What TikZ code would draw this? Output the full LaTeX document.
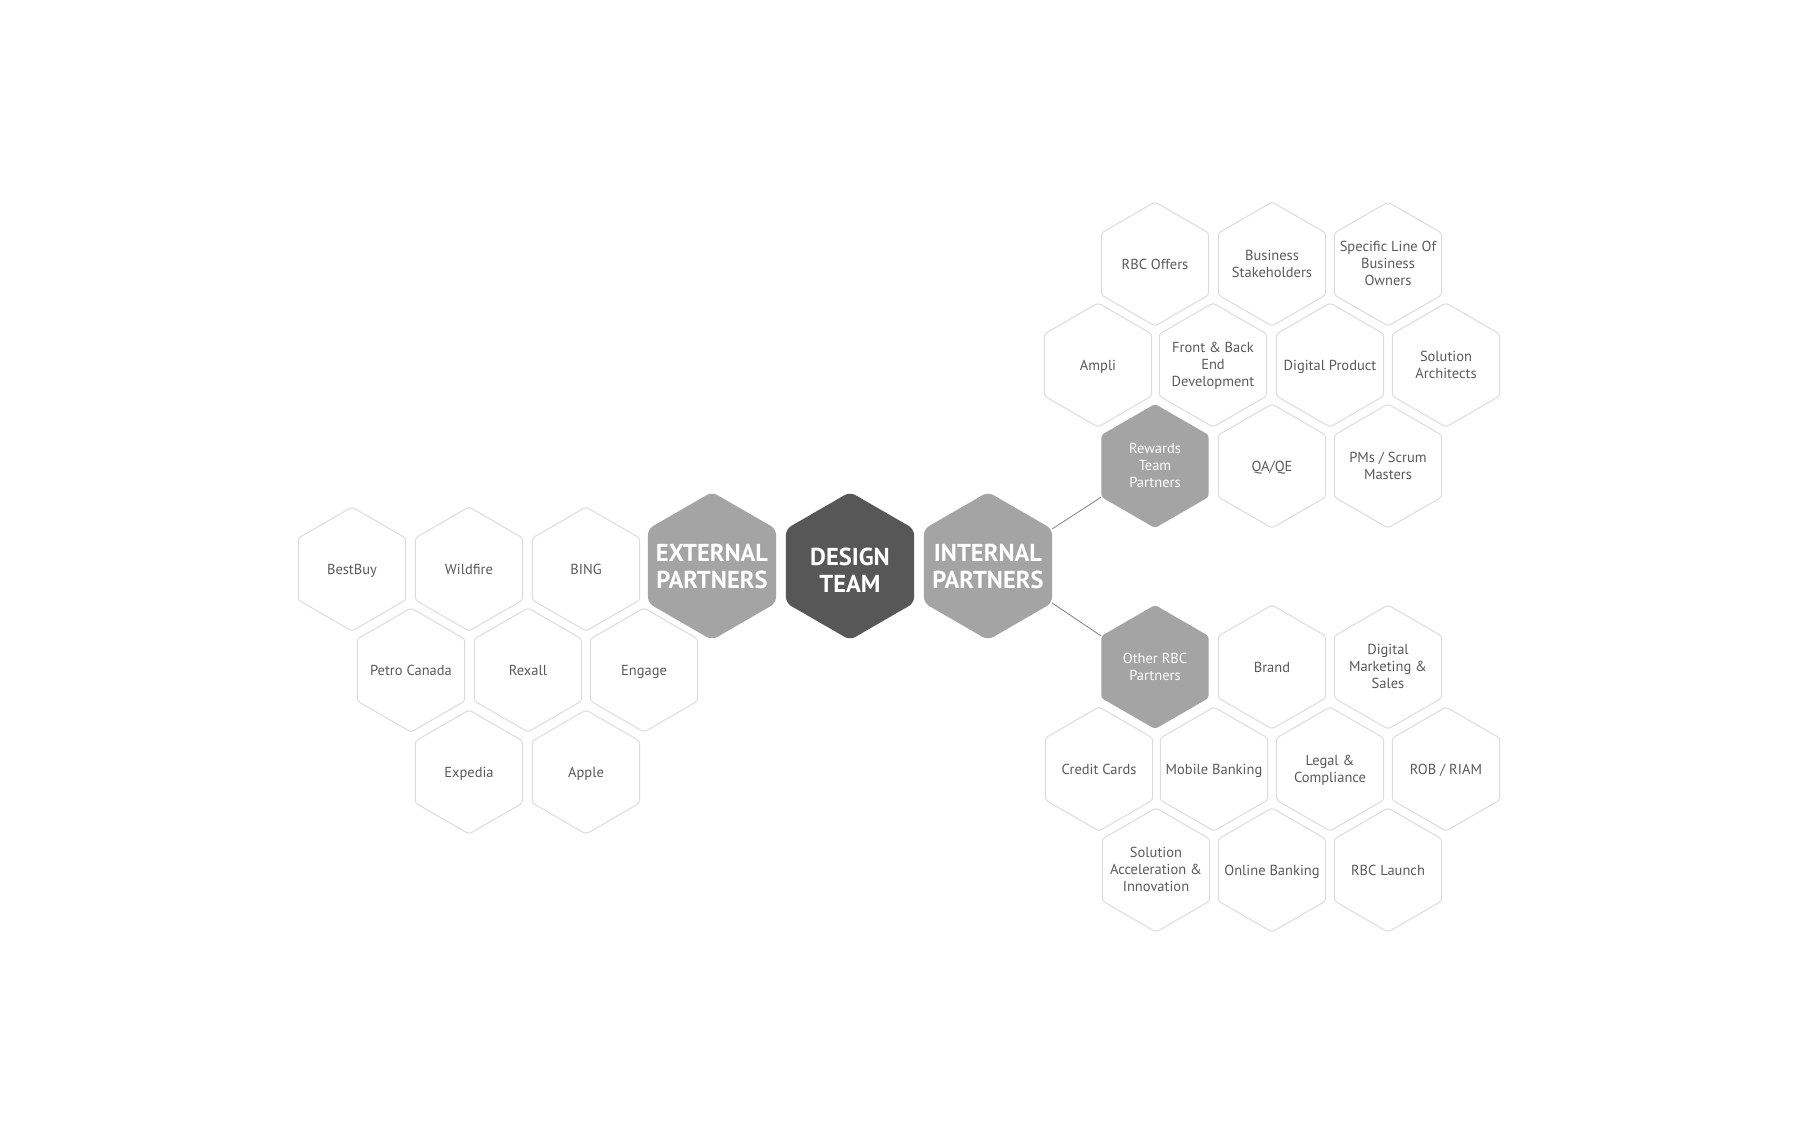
\documentclass[tikz,border=0pt]{standalone}
\usepackage{fontspec}
\usepackage{xcolor}
\usepackage{tikz}
\usetikzlibrary{shapes.geometric}
\setmainfont{PT Sans}

\definecolor{hexline}{HTML}{DCDCDC}
\definecolor{hexgray}{HTML}{5A5A5A}
\definecolor{partnergray}{HTML}{A4A4A4}
\definecolor{designgray}{HTML}{575757}

\tikzset{
    hex/.style={regular polygon, regular polygon sides=6, shape border rotate=30,
        inner sep=0pt, rounded corners=3pt},
    smallhex/.style={hex, draw=hexline, line width=1pt, minimum size=124pt},
    grouphex/.style={hex, fill=partnergray, minimum size=124pt},
    bighex/.style={hex, minimum size=148pt, rounded corners=6pt},
    hextext/.style={align=center, text=hexgray, font=\fontsize{14.5}{17}\selectfont, yshift=-2pt,
        execute at begin node=\strut, execute at end node=\strut},
    grouptext/.style={hextext, text=white},
    bigtext/.style={align=center, text=white, font=\fontsize{24.5}{27}\selectfont\bfseries, yshift=-4pt,
        execute at begin node=\strut, execute at end node=\strut},
}

\begin{document}
\begin{tikzpicture}[x=1pt, y=-1pt]
        \useasboundingbox[fill=white] (0,0) rectangle (1800,1133);

        % centre row
        \node[bighex, fill=partnergray, label={[bigtext]center:{EXTERNAL\\PARTNERS}}] (external) at (712,566) {};
        \node[bighex, fill=designgray, label={[bigtext, yshift=-4pt]center:{DESIGN\\TEAM}}] (design) at (850,566) {};
        \node[bighex, fill=partnergray, label={[bigtext]center:{INTERNAL\\PARTNERS}}] (internal) at (988,566) {};

        % external partners
        \node[smallhex, label={[hextext]center:BestBuy}] (bestbuy) at (352,569) {};
        \node[smallhex, label={[hextext]center:Wildfire}] (wildfire) at (469,569) {};
        \node[smallhex, label={[hextext]center:BING}] (bing) at (586,569) {};
        \node[smallhex, label={[hextext]center:Petro Canada}] (petro) at (411,670) {};
        \node[smallhex, label={[hextext]center:Rexall}] (rexall) at (528,670) {};
        \node[smallhex, label={[hextext]center:Engage}] (engage) at (644,670) {};
        \node[smallhex, label={[hextext]center:Expedia}] (expedia) at (469,772) {};
        \node[smallhex, label={[hextext]center:Apple}] (apple) at (586,772) {};

        % rewards team partners
        \node[smallhex, label={[hextext]center:RBC Offers}] (offers) at (1155,264) {};
        \node[smallhex, label={[hextext]center:{Business\\Stakeholders}}] (stakeholders) at (1272,264) {};
        \node[smallhex, label={[hextext]center:{Specific Line Of\\Business\\Owners}}] (owners) at (1388,264) {};
        \node[smallhex, label={[hextext]center:Ampli}] (ampli) at (1098,365) {};
        \node[smallhex, label={[hextext]center:{Front \& Back\\End\\Development}}] (frontback) at (1213,365) {};
        \node[smallhex, label={[hextext]center:Digital Product}] (product) at (1330,365) {};
        \node[smallhex, label={[hextext]center:{Solution\\Architects}}] (architects) at (1446,365) {};
        \node[grouphex, label={[grouptext]center:{Rewards\\Team\\Partners}}] (rewards) at (1155,466) {};
        \node[smallhex, label={[hextext]center:QA/QE}] (qaqe) at (1272,466) {};
        \node[smallhex, label={[hextext]center:{PMs / Scrum\\Masters}}] (pms) at (1388,466) {};

        % other rbc partners
        \node[grouphex, label={[grouptext]center:{Other RBC\\Partners}}] (other) at (1155,667) {};
        \node[smallhex, label={[hextext]center:Brand}] (brand) at (1272,667) {};
        \node[smallhex, label={[hextext]center:{Digital\\Marketing \&\\Sales}}] (marketing) at (1388,667) {};
        \node[smallhex, label={[hextext]center:Credit Cards}] (credit) at (1099,769) {};
        \node[smallhex, label={[hextext]center:Mobile Banking}] (mobile) at (1214,769) {};
        \node[smallhex, label={[hextext]center:{Legal \&\\Compliance}}] (legal) at (1330,769) {};
        \node[smallhex, label={[hextext]center:ROB / RIAM}] (rob) at (1446,769) {};
        \node[smallhex, label={[hextext]center:{Solution\\Acceleration \&\\Innovation}}] (acceleration) at (1156,870) {};
        \node[smallhex, label={[hextext]center:Online Banking}] (online) at (1272,870) {};
        \node[smallhex, label={[hextext]center:RBC Launch}] (launch) at (1388,870) {};

        \draw[gray, line width=0.8pt] (internal.30) -- (rewards.210);
        \draw[gray, line width=0.8pt] (internal.-30) -- (other.150);
    \end{tikzpicture}
\end{document}
